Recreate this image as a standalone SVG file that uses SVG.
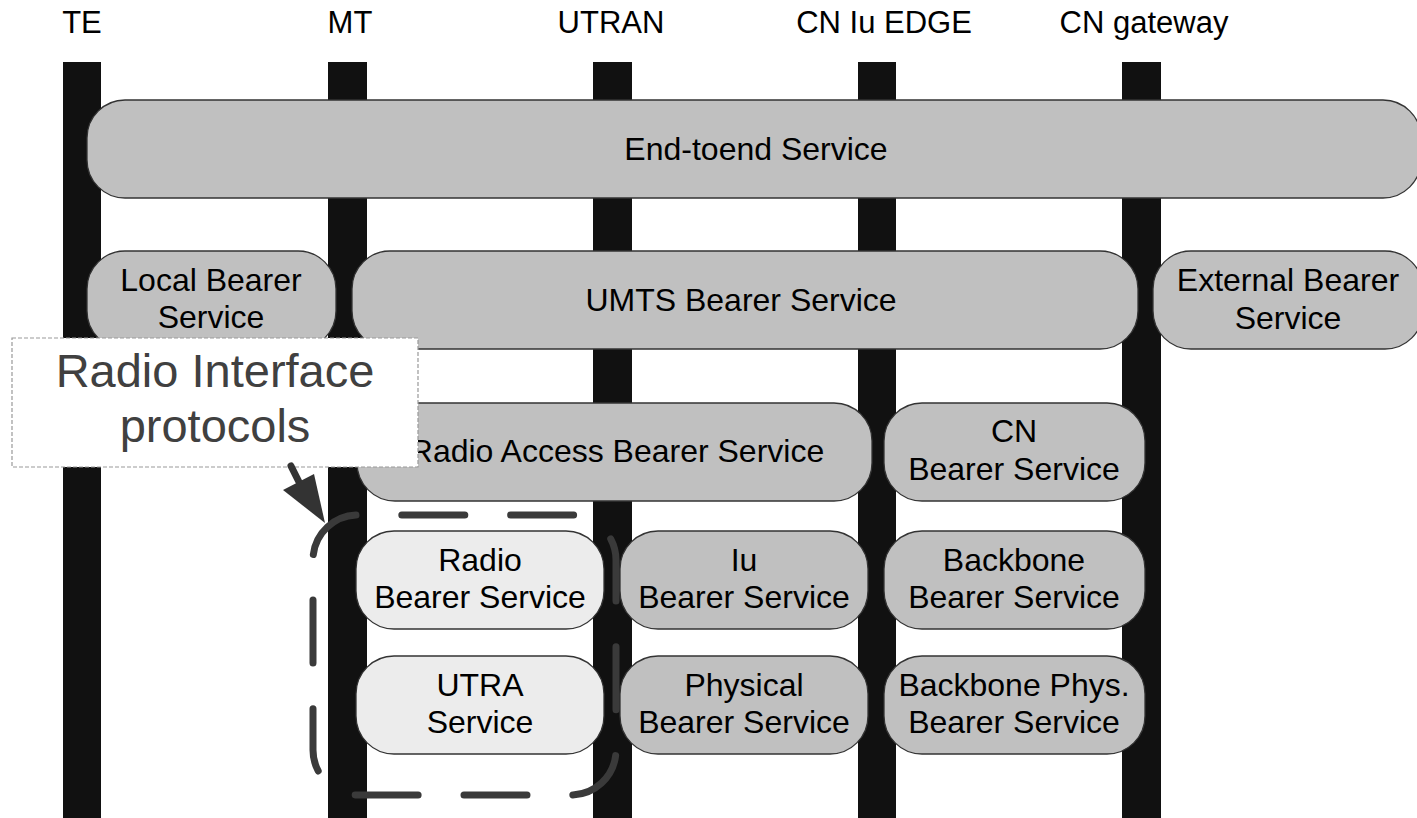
<svg xmlns="http://www.w3.org/2000/svg" width="1417" height="818" viewBox="0 0 1417 818">
<style>
.lbl{font-family:"Liberation Sans",Arial,sans-serif;font-size:31px;fill:#000;text-anchor:middle}
.t{font-family:"Liberation Sans",Arial,sans-serif;font-size:32px;fill:#000;text-anchor:middle}
.bar{fill:#111111}
.g{fill:#c0c0c0;stroke:#333;stroke-width:1.3}
.l{fill:#ececec;stroke:#333;stroke-width:1.3}
.co{font-family:"Liberation Sans",Arial,sans-serif;font-size:47px;fill:#404040;text-anchor:middle}
</style>
<rect width="1417" height="818" fill="#fff"/>
<g id="lanes">
<rect class="bar" x="63" y="62" width="38" height="756"/>
<rect class="bar" x="328" y="62" width="39" height="756"/>
<rect class="bar" x="593" y="62" width="39" height="756"/>
<rect class="bar" x="858" y="62" width="38" height="756"/>
<rect class="bar" x="1122" y="62" width="39" height="756"/>
</g>
<g id="labels">
<text class="lbl" x="82" y="33">TE</text>
<text class="lbl" x="350" y="33">MT</text>
<text class="lbl" x="611" y="33">UTRAN</text>
<text class="lbl" x="884" y="33">CN Iu EDGE</text>
<text class="lbl" x="1144" y="33">CN gateway</text>
</g>
<g id="end-to-end">
<rect class="g" x="87" y="100" width="1334" height="98" rx="38"/>
<text class="t" x="756" y="160">End-toend Service</text>
</g>
<g id="local-bearer">
<rect class="g" x="87" y="251" width="249" height="98" rx="38"/>
<text class="t" x="211" y="291">Local Bearer</text>
<text class="t" x="211" y="328">Service</text>
</g>
<g id="umts-bearer">
<rect class="g" x="352" y="251" width="786" height="98" rx="38"/>
<text class="t" x="741" y="311">UMTS Bearer Service</text>
</g>
<g id="external-bearer">
<rect class="g" x="1153" y="251" width="270" height="98" rx="38"/>
<text class="t" x="1288" y="291">External Bearer</text>
<text class="t" x="1288" y="329">Service</text>
</g>
<g id="rab">
<rect class="g" x="357" y="403" width="515" height="98" rx="38"/>
<text class="t" x="617" y="462">Radio Access Bearer Service</text>
</g>
<g id="cn-bearer">
<rect class="g" x="884" y="403" width="261" height="98" rx="38"/>
<text class="t" x="1014" y="442">CN</text>
<text class="t" x="1014" y="480">Bearer Service</text>
</g>
<g id="radio-bearer">
<rect class="l" x="356" y="531" width="248" height="98" rx="38"/>
<text class="t" x="480" y="571">Radio</text>
<text class="t" x="480" y="608">Bearer Service</text>
</g>
<g id="iu-bearer">
<rect class="g" x="620" y="531" width="248" height="98" rx="38"/>
<text class="t" x="744" y="571">Iu</text>
<text class="t" x="744" y="608">Bearer Service</text>
</g>
<g id="backbone-bearer">
<rect class="g" x="884" y="531" width="261" height="98" rx="38"/>
<text class="t" x="1014" y="571">Backbone</text>
<text class="t" x="1014" y="608">Bearer Service</text>
</g>
<g id="utra-service">
<rect class="l" x="356" y="656" width="248" height="98" rx="38"/>
<text class="t" x="480" y="696">UTRA</text>
<text class="t" x="480" y="733">Service</text>
</g>
<g id="physical-bearer">
<rect class="g" x="620" y="656" width="248" height="98" rx="38"/>
<text class="t" x="744" y="696">Physical</text>
<text class="t" x="744" y="733">Bearer Service</text>
</g>
<g id="backbone-phys">
<rect class="g" x="884" y="656" width="261" height="98" rx="38"/>
<text class="t" x="1014" y="696">Backbone Phys.</text>
<text class="t" x="1014" y="733">Bearer Service</text>
</g>
<g id="callout">
<rect x="12" y="338" width="406" height="129" fill="#fff" stroke="#999" stroke-width="1.2" stroke-dasharray="4 2"/>
<text class="co" x="215" y="387">Radio Interface</text>
<text class="co" x="215" y="442">protocols</text>
</g>
<g id="radio-interface-region">
<path d="M313,560 A45,45 0 0 1 358,515 H571 A45,45 0 0 1 616,560 V750 A45,45 0 0 1 571,795 H358 A45,45 0 0 1 313,750 Z" fill="none" stroke="#3a3a3a" stroke-width="7" stroke-linecap="round" stroke-dasharray="63 45.87" stroke-dashoffset="-5.5"/>
</g>
<g id="connectors">
<line x1="291" y1="466" x2="300" y2="484" stroke="#333" stroke-width="7" stroke-linecap="round"/>
<polygon points="283,490 314,474 325,523" fill="#333"/>
</g>
</svg>
